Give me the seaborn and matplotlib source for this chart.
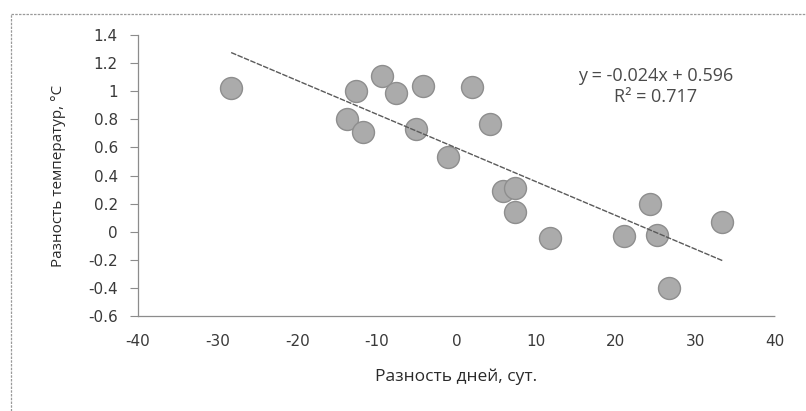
import numpy as np
import pandas as pd
import matplotlib
matplotlib.use("Agg")
import matplotlib.pyplot as plt
from matplotlib.lines import Line2D
from matplotlib.ticker import FuncFormatter
import seaborn as sns

# Difference in days (x) and temperature difference (y) for each observation
days_diff = [-28.3, -13.8, -12.6, -11.7, -9.3, -7.6, -5.1, -4.2, -1.1, 1.9,
             4.2, 5.9, 7.3, 7.3, 11.7, 21.0, 24.3, 25.2, 26.7, 33.4]
temp_diff = [1.02, 0.80, 1.00, 0.71, 1.105, 0.99, 0.73, 1.04, 0.53, 1.03,
             0.77, 0.29, 0.31, 0.14, -0.045, -0.033, 0.20, -0.02, -0.40, 0.066]

# Linear trend reported on the chart
slope = -0.024
intercept = 0.596
r_squared = 0.717

x_ticks = [-40, -30, -20, -10, 0, 10, 20, 30, 40]
y_ticks = [-0.6, -0.4, -0.2, 0, 0.2, 0.4, 0.6, 0.8, 1.0, 1.2, 1.4]

x_label = "Разность дней, сут."
y_label = "Разность температур, °C"

df = pd.DataFrame({"days": days_diff, "temp": temp_diff})

sns.set_theme(style="white")
plt.rcParams["font.family"] = ["Open Sans", "DejaVu Sans"]

fig = plt.figure(figsize=(8.06, 4.11), dpi=100)
ax = fig.add_axes([0.1712, 0.2311, 0.7903, 0.6837])

# Trend line over the data range
trend_x = np.array([min(days_diff), max(days_diff)])
trend = pd.DataFrame({"days": trend_x, "temp": slope * trend_x + intercept})
sns.lineplot(data=trend, x="days", y="temp", ax=ax, color="#5a5a5a",
             linewidth=1.0, linestyle=(0, (4, 1)), zorder=3)

sns.scatterplot(data=df, x="days", y="temp", ax=ax, s=250,
                color="#ababab", edgecolor="#8e8e8e", linewidth=1.0,
                zorder=2)

ax.set_xlim(-40, 40)
ax.set_ylim(-0.6, 1.4)
ax.set_xticks(x_ticks)
ax.set_yticks(y_ticks)
ax.yaxis.set_major_formatter(FuncFormatter(lambda v, p: f"{round(v, 1):g}"))
ax.xaxis.set_major_formatter(FuncFormatter(lambda v, p: f"{v:g}"))

for side in ("top", "right"):
    ax.spines[side].set_visible(False)
for side in ("left", "bottom"):
    ax.spines[side].set_color("#8c8c8c")
    ax.spines[side].set_linewidth(0.9)
    ax.spines[side].set_linestyle((0, (1, 1)))

tick_font = ["DejaVu Sans"]
ax.tick_params(axis="y", which="major", direction="out", length=5.5, width=0.8,
               color="#8c8c8c", labelsize=11, labelcolor="#3a3a3a", pad=9,
               left=True)
ax.tick_params(axis="x", which="major", direction="out", length=0,
               labelsize=11, labelcolor="#3a3a3a", pad=13, bottom=True)
for lbl in ax.get_xticklabels() + ax.get_yticklabels():
    lbl.set_fontfamily(tick_font)

ax.set_xlabel(x_label, fontsize=12.5, color="#2a2a2a", labelpad=14)
ax.set_ylabel(y_label, fontsize=11, color="#2a2a2a", labelpad=16)

ax.text(0.813, 0.818,
        f"y = {slope:.3f}x + {intercept:.3f}\nR² = {r_squared:.3f}",
        transform=ax.transAxes, ha="center", va="center", fontsize=13,
        color="#4a4a4a", linespacing=1.2, multialignment="center")

# Dotted outer chart frame (top and left edges)
frame_kw = dict(transform=fig.transFigure, color="#9a9a9a", linewidth=0.9,
                linestyle=(0, (2, 1)))
fig.add_artist(Line2D([11 / 806, 1.0], [1 - 14 / 411, 1 - 14 / 411], **frame_kw))
fig.add_artist(Line2D([11 / 806, 11 / 806], [0.0, 1 - 14 / 411], **frame_kw))

fig.savefig("out.png", dpi=100, facecolor="white")
